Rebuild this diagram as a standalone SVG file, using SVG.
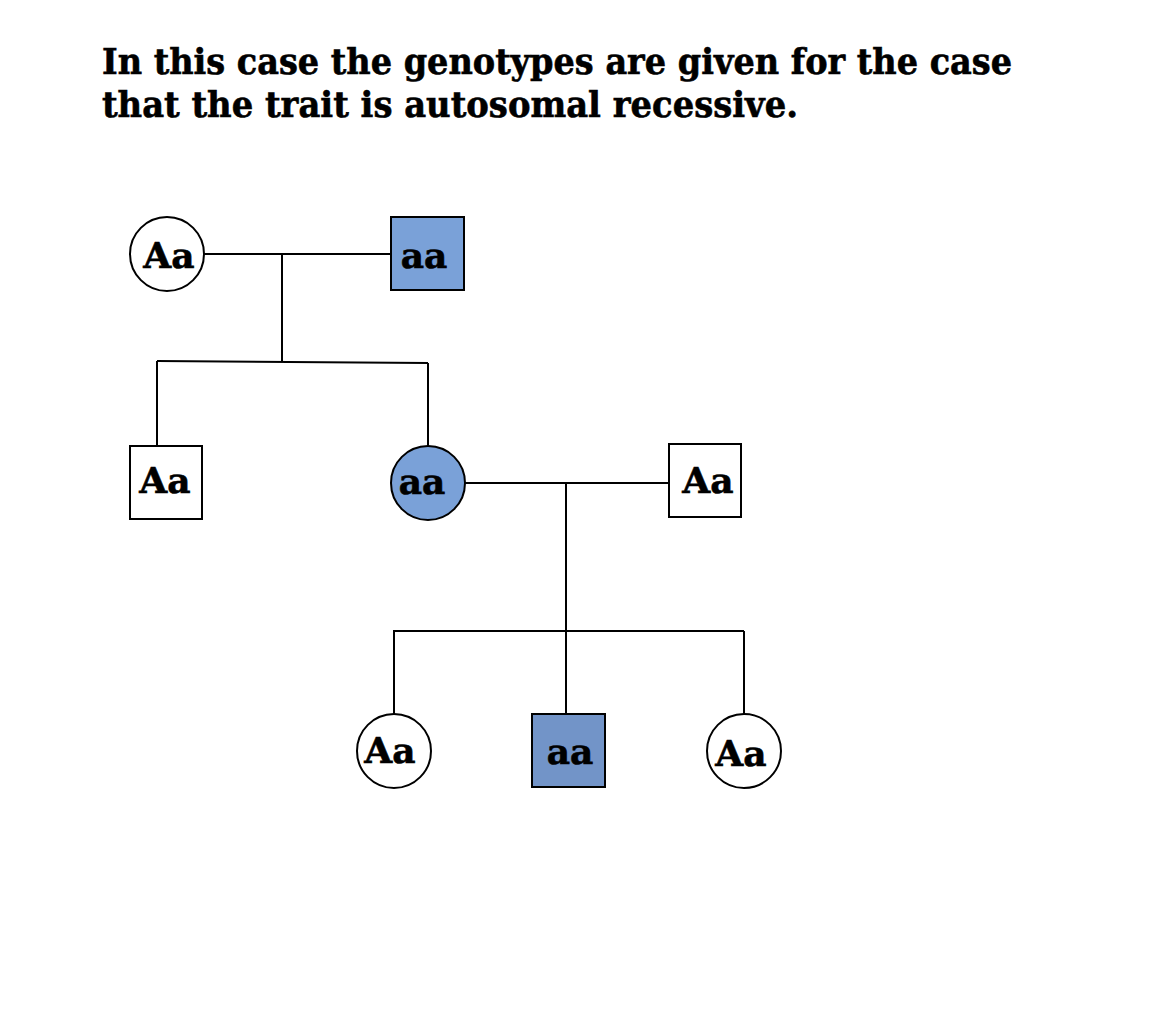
<svg xmlns="http://www.w3.org/2000/svg" width="1158" height="1020" viewBox="0 0 1158 1020">
<style>
.title{font-family:"DejaVu Serif","Liberation Serif",serif;font-weight:bold;font-size:35px;fill:#000;stroke:#000;stroke-width:0.6}
.lbl{font-family:"DejaVu Serif","Liberation Serif",serif;font-weight:bold;font-size:36px;fill:#000;stroke:#000;stroke-width:0.6;text-anchor:middle}
.shape{stroke:#000;stroke-width:2}
.w{fill:#fff}
.b{fill:#7AA1D8}
.b2{fill:#7294C8}
.conn line{stroke:#000;stroke-width:2;fill:none}
</style>
<rect width="1158" height="1020" fill="#fff"/>
<text class="title" x="102" y="74" textLength="910" lengthAdjust="spacingAndGlyphs">In this case the genotypes are given for the case</text>
<text class="title" x="102" y="117" textLength="696" lengthAdjust="spacingAndGlyphs">that the trait is autosomal recessive.</text>
<g id="connectors" class="conn">
<line x1="204" y1="254" x2="391" y2="254"/>
<line x1="282" y1="254" x2="282" y2="362"/>
<line x1="157" y1="361" x2="428" y2="363"/>
<line x1="157" y1="361" x2="157" y2="446"/>
<line x1="428" y1="363" x2="428" y2="446"/>
<line x1="465" y1="483" x2="669" y2="483"/>
<line x1="566" y1="483" x2="566" y2="714"/>
<line x1="393" y1="631" x2="744" y2="631"/>
<line x1="394" y1="631" x2="394" y2="714"/>
<line x1="744" y1="631" x2="744" y2="714"/>
</g>
<g id="gen1-mother">
<circle class="shape w" cx="167" cy="254" r="37"/>
<text class="lbl" x="169" y="268">Aa</text>
</g>
<g id="gen1-father">
<rect class="shape b" x="391" y="217" width="73" height="73"/>
<text class="lbl" x="424" y="268">aa</text>
</g>
<g id="gen2-son">
<rect class="shape w" x="130" y="446" width="72" height="73"/>
<text class="lbl" x="165" y="493">Aa</text>
</g>
<g id="gen2-daughter">
<circle class="shape b" cx="428" cy="483" r="37"/>
<text class="lbl" x="422" y="494">aa</text>
</g>
<g id="gen2-husband">
<rect class="shape w" x="669" y="444" width="72" height="73"/>
<text class="lbl" x="708" y="493">Aa</text>
</g>
<g id="gen3-daughter1">
<circle class="shape w" cx="394" cy="751" r="37"/>
<text class="lbl" x="390" y="763">Aa</text>
</g>
<g id="gen3-son">
<rect class="shape b2" x="532" y="714" width="73" height="73"/>
<text class="lbl" x="570" y="764">aa</text>
</g>
<g id="gen3-daughter2">
<circle class="shape w" cx="744" cy="751" r="37"/>
<text class="lbl" x="741" y="766">Aa</text>
</g>
</svg>
